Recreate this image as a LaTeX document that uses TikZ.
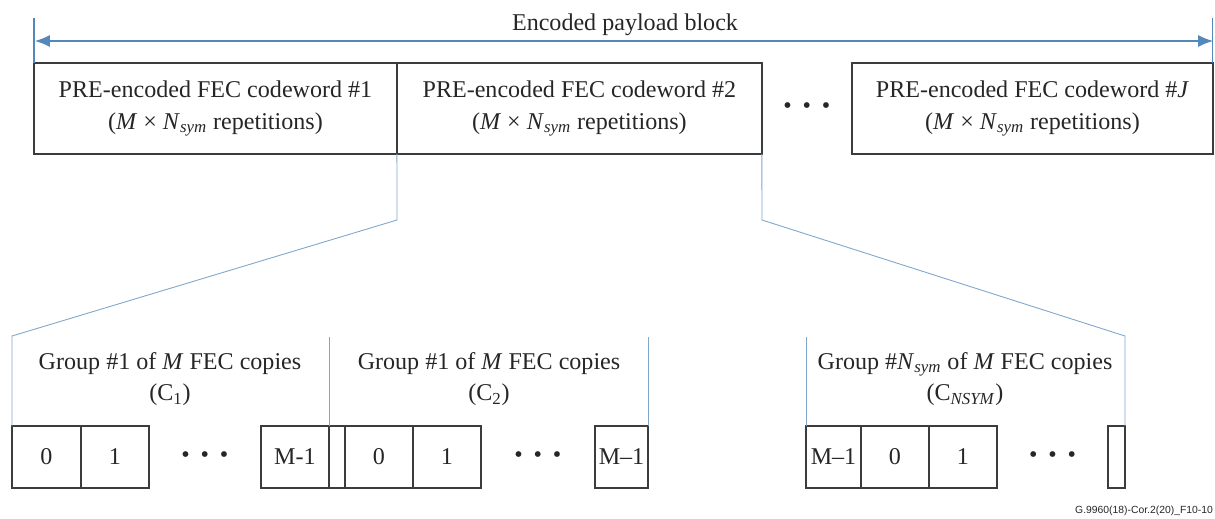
\documentclass[tikz,border=0pt]{standalone}
\usepackage{fontspec}
\setmainfont{Liberation Serif}
\newfontfamily\tagfont{Liberation Sans}
\usetikzlibrary{arrows.meta}
\usetikzlibrary{positioning}
\usetikzlibrary{calc}
\definecolor{lineblue}{RGB}{84,136,186}
\definecolor{boxgray}{RGB}{60,60,60}

\begin{document}
\begin{tikzpicture}[x=0.02cm, y=-0.02cm, every node/.style={font=\fontsize{13.7}{18}\selectfont, text=black!85}, cw/.style={draw=boxgray, line width=1pt, minimum height=1.82cm, align=center, inner sep=0pt, outer sep=0pt, anchor=north west}, cell/.style={draw=boxgray, line width=1pt, minimum height=1.24cm, minimum width=1.36cm, inner sep=0pt, outer sep=0pt}, zoom/.style={draw=lineblue!75, line width=0.5pt}]
        \useasboundingbox (0,0) rectangle (1215,518);

        % Define the text of the repetitions line
        \def\reps{(\textit{M} × \textit{N}\textsubscript{\textit{sym}} repetitions)}
        \def\dots{\textbullet\hspace{0.45em}\textbullet\hspace{0.45em}\textbullet}

        % Draw the encoded payload block
        \node[cw, minimum width=7.26cm] (cw1) at (34,63) {PRE-encoded FEC codeword \#1\\\reps\\[-14pt]};
        \node[cw, minimum width=7.30cm, right=0pt of cw1] (cw2) {PRE-encoded FEC codeword \#2\\\reps\\[-14pt]};
        \node[cw, minimum width=7.22cm] (cw3) at (852,63) {PRE-encoded FEC codeword \#\textit{J}\\\reps\\[-14pt]};
        \node (cwdots) at ($(cw2.east)!0.5!(cw3.west)$) {\dots};

        % Draw the payload length arrow
        \coordinate (pl) at (35,41);
        \coordinate (pr) at (1213,41);
        \draw[lineblue, line width=0.6pt] (cw1.north west) -- ++(0,-45);
        \draw[lineblue, line width=0.6pt] (cw3.north east) -- ++(0,-45);
        \draw[lineblue, line width=0.6pt, {Latex[length=3mm, width=2.4mm]}-{Latex[length=3mm, width=2.4mm]}] (pl) -- (pr);
        \node (lbl) at (625,25) {Encoded payload block};

        % Draw the copies of codeword #2
        \node[cell, minimum width=1.38cm, anchor=north west] (c10) at (12,426) {0};
        \node[cell, right=0pt of c10] (c11) {1};
        \node[cell, right=2.24cm of c11] (c1m) {M-1};
        \node[cell, minimum width=0.32cm, right=0pt of c1m] (ct) {};
        \node[cell, right=0pt of ct] (c20) {0};
        \node[cell, right=0pt of c20] (c21) {1};
        \node[cell, minimum width=1.06cm, anchor=north east] (c2m) at (648,426) {M–1};
        \node[cell, minimum width=1.10cm, anchor=north west] (cNm) at (806,426) {M–1};
        \node[cell, right=0pt of cNm] (cN0) {0};
        \node[cell, right=0pt of cN0] (cN1) {1};
        \node[cell, minimum width=0.34cm, anchor=north east] (cNe) at (1125,426) {};

        \node (d1) at ($(c11.east)!0.5!(c1m.west)$) {\dots};
        \node (d2) at ($(c21.east)!0.5!(c2m.west)$) {\dots};
        \node (dN) at ($(cN1.east)!0.5!(cNe.west)$) {\dots};

        % Draw the group labels
        \node[align=center] (g1) at (170,379) {Group \#1 of \textit{M} FEC copies\\(C\textsubscript{1})};
        \node[align=center] (g2) at (489,379) {Group \#1 of \textit{M} FEC copies\\(C\textsubscript{2})};
        \node[align=center] (gN) at (965,379) {Group \#\textit{N}\textsubscript{\textit{sym}} of \textit{M} FEC copies\\(C\textsubscript{\textit{NSYM}})};

        % Draw the zoom lines and group borders
        \coordinate (zl) at (397,220);
        \coordinate (zr) at (762,220);
        \draw[zoom] (cw2.south west) -- (zl) -- (12,336) -- (c10.north west);
        \draw[zoom] (cw2.south east) -- (zr) -- (1125,336) -- (cNe.north east);
        \draw[zoom] (c1m.north east) -- ++(0,-89);
        \draw[zoom] (c2m.north east) -- ++(0,-89);
        \draw[zoom] (cNm.north west) -- ++(0,-89);

        \node[anchor=south east, inner sep=1pt, font=\tagfont\fontsize{5.9}{7}\selectfont] (tag) at (1215,518) {G.9960(18)-Cor.2(20)\_F10-10};
      \end{tikzpicture}
\end{document}
